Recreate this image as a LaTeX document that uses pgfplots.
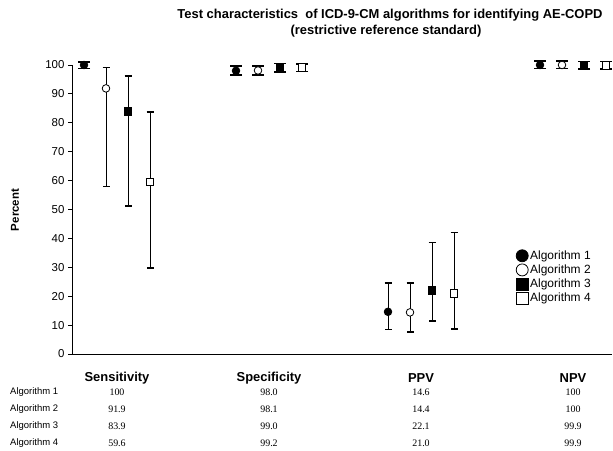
\documentclass[border=0pt]{standalone}
\usepackage{fontspec}
\setmainfont{Liberation Sans}
\newfontfamily\tnr{Liberation Serif}
\usepackage{pgfplots}
\pgfplotsset{compat=1.18}
\begin{document}
\begin{tikzpicture}[x=1bp,y=1bp]
\useasboundingbox (0,0) rectangle (613,451);
\begin{axis}[
  at={(72bp,97bp)}, anchor=south west,
  scale only axis, width=540bp, height=289bp,
  xmin=72, xmax=612, ymin=0, ymax=100,
  axis x line=bottom, axis y line=left,
  axis line style={-, line width=0.9bp},
  xtick=\empty,
  ytick={0,10,...,100},
  tick align=outside, major tick length=4bp,
  tick style={line width=0.9bp, black},
  /pgf/number format/assume math mode=true,
  tick label style={font=\fontsize{11.5}{13}\selectfont},
  clip=false,
  legend cell align=left,
  legend style={draw=none, fill=none, at={(axis cs:516,36.5)}, anchor=north west,
    font=\fontsize{12}{14}\selectfont, row sep=0bp, inner sep=0pt,
    legend image code/.code={\draw[#1,mark size=6bp] plot coordinates {(0bp,0bp)};}},
  error bars/y dir=both, error bars/y explicit,
  error bars/error bar style={line width=0.9bp, black},
  error bars/error mark options={rotate=90, mark size=3.5bp, line width=1.3bp, black},
  small/.style={error bars/error mark options={rotate=90, mark size=6bp, line width=1.5bp, black}},
  alg1/.style={only marks, mark=*, mark size=3.8bp, draw=black, fill=black, mark options={fill=black, draw=black, line width=0.8bp}},
  alg2/.style={only marks, mark=*, mark size=3.8bp, draw=black, mark options={fill=white, draw=black, line width=0.8bp}},
  alg3/.style={only marks, mark=square*, mark size=3.8bp, draw=black, mark options={fill=black, draw=black, line width=0.8bp}},
  alg4/.style={only marks, mark=square*, mark size=3.8bp, draw=black, mark options={fill=white, draw=black, line width=0.8bp}},
]
% wide confidence intervals (Sensitivity, PPV)
\addplot+[alg1] coordinates {
  (388,14.6) += (0,10.0) -= (0,6.2)
  };
\addlegendentry{Algorithm 1}
\addplot+[alg2] coordinates {
  (106,91.9) += (0,7.2) -= (0,33.9)
  (410,14.4) += (0,10.2) -= (0,6.8)
  };
\addlegendentry{Algorithm 2}
\addplot+[alg3] coordinates {
  (128,83.9) += (0,12.3) -= (0,32.7)
  (432,22.1) += (0,16.5) -= (0,10.7)
  };
\addlegendentry{Algorithm 3}
\addplot+[alg4] coordinates {
  (150,59.6) += (0,24.1) -= (0,29.8)
  (454,21.0) += (0,21.0) -= (0,12.3)
  };
\addlegendentry{Algorithm 4}
% narrow confidence intervals
\addplot+[alg1, small, forget plot] coordinates {
  (84,100) += (0,1.0) -= (0,1.3)
  (236,98.0) += (0,1.6) -= (0,1.4)
  (540,100) += (0,1.3) -= (0,1.3)
  };
\addplot+[alg2, small, forget plot] coordinates {
  (258,98.1) += (0,1.5) -= (0,1.5)
  (562,100) += (0,1.3) -= (0,1.3)
  };
\addplot+[alg3, small, forget plot] coordinates {
  (280,99.0) += (0,1.6) -= (0,1.5)
  (584,99.9) += (0,1.3) -= (0,1.3)
  };
\addplot+[alg4, small, forget plot] coordinates {
  (302,99.2) += (0,1.1) -= (0,1.4)
  (606,99.9) += (0,1.3) -= (0,1.3)
  };
\end{axis}
% y label
\node[rotate=90, font=\fontsize{11.5}{13}\selectfont\bfseries] at (15,241) {Percent};
% title
\node[font=\fontsize{13}{15}\selectfont\bfseries] at (390,436) {Test characteristics\ \ of ICD-9-CM algorithms for identifying AE-COPD};
\node[font=\fontsize{13}{15}\selectfont\bfseries] at (386,420) {(restrictive reference standard)};
% category labels
\foreach \xx/\lab in {117/Sensitivity,269/Specificity,421/PPV,573/NPV}
  \node[font=\fontsize{13}{15}\selectfont\bfseries] at (\xx,73) {\lab};
% table
\foreach \yy/\lab in {59/Algorithm 1,42/Algorithm 2,25/Algorithm 3,8/Algorithm 4}
  \node[font=\fontsize{9.5}{11}\selectfont, anchor=west, inner sep=0pt] at (10,\yy) {\lab};
\foreach \xx/\a/\b/\c/\d in {117/100/91.9/83.9/59.6, 269/98.0/98.1/99.0/99.2, 421/14.6/14.4/22.1/21.0, 573/100/100/99.9/99.9}{
  \node[font=\tnr\fontsize{10}{12}\selectfont, inner sep=0pt] at (\xx,59) {\a};
  \node[font=\tnr\fontsize{10}{12}\selectfont, inner sep=0pt] at (\xx,42) {\b};
  \node[font=\tnr\fontsize{10}{12}\selectfont, inner sep=0pt] at (\xx,25) {\c};
  \node[font=\tnr\fontsize{10}{12}\selectfont, inner sep=0pt] at (\xx,8) {\d};
}
\end{tikzpicture}
\end{document}
